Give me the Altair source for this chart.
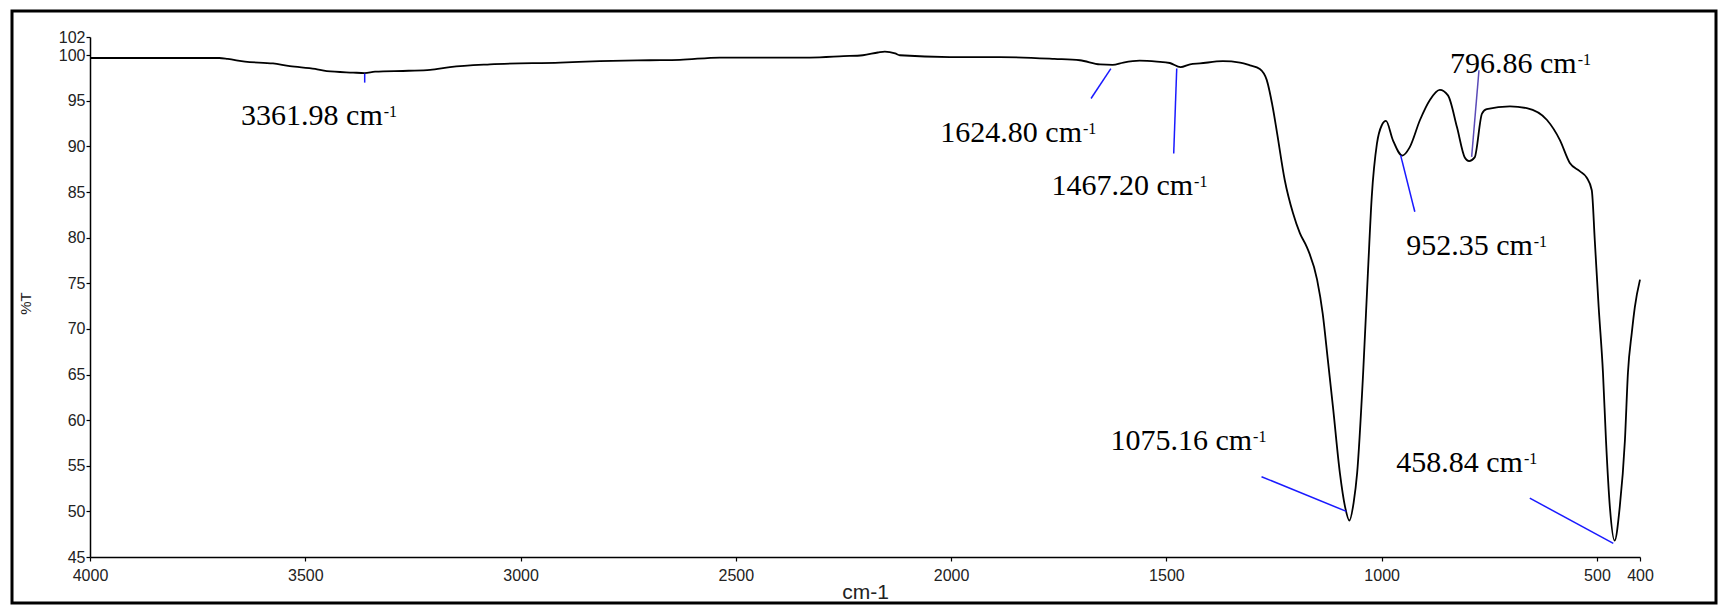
import altair as alt
import pandas as pd

# ---- spectrum ----
wavenumber = [4000, 3900, 3800, 3700, 3680, 3640, 3575, 3536, 3477, 3450, 3389, 3362, 3338, 3260,
              3210, 3164, 3071, 2908, 2816, 2700, 2630, 2537, 2400, 2328, 2250, 2205, 2170, 2154,
              2130, 2119, 2003, 1887, 1760, 1701, 1654, 1625, 1600, 1562, 1522, 1492, 1467, 1445,
              1422, 1369, 1329, 1306, 1283, 1267, 1253, 1243, 1225, 1206, 1190, 1174, 1150, 1137,
              1125, 1113, 1097, 1085, 1075, 1065, 1057, 1043, 1032, 1023, 1011, 1000, 990, 974,
              952, 935, 911, 888, 865, 846, 825, 807, 797, 784, 767, 756, 702, 663, 616, 586,
              563, 540, 524, 512, 505, 496, 486, 479, 470, 459, 447, 435, 428, 419, 412, 400]
transmittance = [99.7, 99.7, 99.7, 99.7, 99.6, 99.3, 99.1, 98.8, 98.5, 98.25, 98.1, 98.05, 98.2, 98.3,
                 98.4, 98.7, 99.0, 99.2, 99.35, 99.45, 99.5, 99.75, 99.75, 99.75, 99.9, 100.0, 100.3, 100.4,
                 100.2, 100.0, 99.8, 99.8, 99.6, 99.45, 99.0, 98.95, 99.2, 99.4, 99.3, 99.15, 98.7, 99.0,
                 99.1, 99.35, 99.2, 98.9, 98.5, 97.3, 94.3, 91.5, 86.3, 82.7, 80.5, 79.0, 75.4, 71.7,
                 66.6, 61.4, 54.2, 50.5, 49.0, 51.0, 54.2, 65.2, 76.1, 84.5, 90.3, 92.3, 92.8, 90.7,
                 89.0, 89.9, 92.9, 95.1, 96.2, 95.6, 92.1, 88.8, 88.4, 88.8, 93.6, 94.1, 94.4, 94.2, 92.9, 90.7,
                 88.2, 87.3, 86.6, 85.2, 79.7, 72.4, 65.2, 57.8, 50.5, 46.8, 50.5, 57.8, 65.2, 69.6, 72.4, 75.4]

# ---- peak annotations ----
peak_text = ["3361.98 cm", "1624.80 cm", "1467.20 cm", "1075.16 cm", "458.84 cm", "952.35 cm", "796.86 cm"]
peak_sup = ["-1", "-1", "-1", "-1", "-1", "-1", "-1"]
label_wn = [3320, 1696, 1438, 1301, 672, 649, 547]
label_T = [92.33, 90.5, 84.67, 56.74, 54.36, 78.1, 98.0]

# leader lines
lead_wn1 = [3362, 1629, 1476, 1279, 656, 956, 791]
lead_T1 = [98.0, 98.54, 98.54, 53.8, 51.45, 89.05, 88.86]
lead_wn2 = [3362, 1675, 1483, 1082, 462, 923, 774]
lead_T2 = [97.0, 95.26, 89.23, 50.0, 46.5, 82.84, 98.36]
lead_color = ["#1a1aff", "#1a1aff", "#1a1aff", "#1a1aff", "#1a1aff", "#1a1aff", "#5a4ab8"]

x_ticks = [4000, 3500, 3000, 2500, 2000, 1500, 1000, 500, 400]
y_ticks = [45, 50, 55, 60, 65, 70, 75, 80, 85, 90, 95, 100, 102]

spec = pd.DataFrame({"wn": wavenumber, "T": transmittance})
labels = pd.DataFrame({"text": peak_text, "sup": peak_sup, "wn": label_wn, "T": label_T})
leads = pd.DataFrame({"wn1": lead_wn1, "T1": lead_T1, "wn2": lead_wn2, "T2": lead_T2, "c": lead_color})

xs = alt.Scale(domain=[400, 4000], reverse=True, nice=False, zero=False)
ys = alt.Scale(domain=[45, 102], nice=False, zero=False)

x_axis = alt.Axis(values=x_ticks, format="d", title="cm-1", grid=False, labelFlush=False,
                  labelOverlap=False, tickSize=4, labelPadding=6, titleFontSize=21,
                  titleY=24, titleBaseline="top", titleFontWeight="normal")
y_axis = alt.Axis(values=y_ticks, format="d", title="%T", grid=False, labelFlush=False,
                  labelOverlap=False, tickSize=4, labelPadding=1, titleFontSize=15,
                  titleX=-57, titleY=266, titleFontWeight="normal")

line = alt.Chart(spec).mark_line(color="black", strokeWidth=1.8, interpolate="monotone").encode(
    x=alt.X("wn:Q", scale=xs, axis=x_axis),
    y=alt.Y("T:Q", scale=ys, axis=y_axis),
    order=alt.Order("wn:Q", sort="descending"),
)

rules = alt.Chart(leads).mark_rule(strokeWidth=1.5).encode(
    x=alt.X("wn1:Q", scale=xs), x2="wn2:Q",
    y=alt.Y("T1:Q", scale=ys), y2="T2:Q",
    color=alt.Color("c:N", scale=None),
)

main_text = alt.Chart(labels).mark_text(font="Liberation Serif", fontSize=30, align="right",
                                        baseline="alphabetic", color="black").encode(
    x=alt.X("wn:Q", scale=xs), y=alt.Y("T:Q", scale=ys), text="text:N")

sup_text = alt.Chart(labels).mark_text(font="Liberation Serif", fontSize=16, align="left",
                                       baseline="alphabetic", color="black", dx=1, dy=-8).encode(
    x=alt.X("wn:Q", scale=xs), y=alt.Y("T:Q", scale=ys), text="sup:N")

frame = alt.Chart(pd.DataFrame({"k": [0]})).mark_rect(filled=False, stroke="black", strokeWidth=3).encode(
    x=alt.value(-78), x2=alt.value(1626), y=alt.value(-26), y2=alt.value(566))

chart = alt.layer(frame, line, rules, main_text, sup_text).properties(
    width=1550, height=520,
    autosize=alt.AutoSizeParams(type="none"),
    padding={"left": 90, "top": 37, "right": 80, "bottom": 48},
    background="white",
).configure_view(stroke=None).configure_axis(
    labelFont="Liberation Sans", labelFontSize=16, labelColor="#222222",
    titleFont="Liberation Sans", titleColor="#222222",
    domainColor="black", domainWidth=1.5, tickColor="black", tickWidth=1.2,
)

chart.save("out.html", embed_options={"renderer": "svg", "actions": False})
